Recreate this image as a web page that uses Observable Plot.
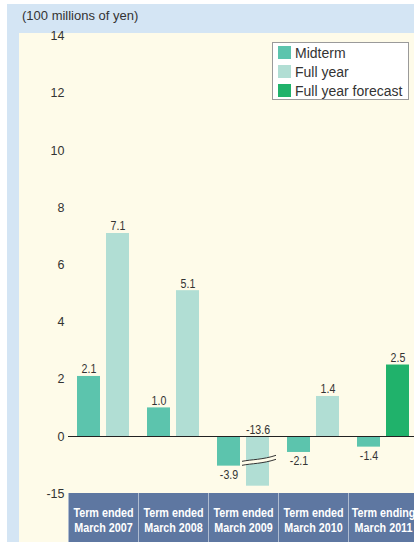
<!DOCTYPE html>
<html>
<head>
<meta charset="utf-8">
<script src="https://cdn.jsdelivr.net/npm/d3@7"></script>
<script src="https://cdn.jsdelivr.net/npm/@observablehq/plot@0.6"></script>
<style>
html,body{margin:0;padding:0;background:#fff;width:414px;height:542px;overflow:hidden;}
#wrap{position:relative;width:414px;height:542px;overflow:hidden;}
#blue{position:absolute;left:7px;top:4px;right:0;bottom:0;background:#d4e5f4;}
#cream{position:absolute;left:19px;top:33px;right:0;bottom:0;background:#fefbe9;}
#title{position:absolute;left:22px;top:8px;font:13px "Liberation Sans",Arial,sans-serif;color:#333;}
#chart{position:absolute;left:0;top:0;width:420px;}
#chart svg{max-width:none !important;}
#legend{position:absolute;left:272px;top:42px;width:137px;height:58px;background:#fff;border:1px solid #9a9a9a;box-sizing:border-box;padding:0 0 0 5px;font:14px "Liberation Sans",Arial,sans-serif;color:#333;white-space:nowrap;}
#legend .row{display:flex;align-items:center;height:19px;}
#legend .sw{width:13px;height:13px;margin-right:4px;flex:none;}
</style>
</head>
<body>
<div id="wrap">
  <div id="blue"></div>
  <div id="cream"></div>
  <div id="title">(100 millions of yen)</div>
  <div id="chart"></div>
  <div id="legend"></div>
</div>
<script>
// ---- data ----
const categories = ["Term ended\nMarch 2007", "Term ended\nMarch 2008", "Term ended\nMarch 2009", "Term ended\nMarch 2010", "Term ending\nMarch 2011"];
const midterm  = [2.1, 1.0, -3.9, -2.1, -1.4];
const fullYear = [7.1, 5.1, -13.6, 1.4, null];
const forecast = [null, null, null, null, 2.5];
const seriesNames = ["Midterm", "Full year", "Full year forecast"];
const seriesColors = ["#5cc4ad", "#b1ded4", "#20b26b"];
const yTicks = [14, 12, 10, 8, 6, 4, 2, 0, -15];
const gridTicks = [14, 12, 10, 8, 6, 4, 2];
const breakValue = -3.2;    // where the broken bar is cut
const brokenBelow = -5;     // values below this are drawn with an axis break

// ---- table ----
const rows = [];
categories.forEach((c, i) => {
  if (midterm[i] != null) rows.push({cat: c, series: seriesNames[0], slot: "left", value: midterm[i]});
  if (fullYear[i] != null) rows.push({cat: c, series: seriesNames[1], slot: "right", value: fullYear[i]});
  if (forecast[i] != null) rows.push({cat: c, series: seriesNames[2], slot: "right", value: forecast[i]});
});
const left = rows.filter(d => d.slot === "left");
const right = rows.filter(d => d.slot === "right");
const fmt = v => v.toFixed(1);   // plain hyphen-minus as in the original
const sans = '"Liberation Sans",Arial,sans-serif';

const labelMarks = (data, dx) => [
  Plot.text(data.filter(d => d.value >= 0), {x: "cat", y: "value", text: d => fmt(d.value), dx, dy: -3, lineAnchor: "bottom", fontSize: 12.5, fontFamily: sans, fill: "#333", className: "narrow"}),
  Plot.text(data.filter(d => d.value < 0 && d.value >= brokenBelow), {x: "cat", y: "value", text: d => fmt(d.value), dx, dy: 4, lineAnchor: "top", fontSize: 12.5, fontFamily: sans, fill: "#333", className: "narrow"}),
  Plot.text(data.filter(d => d.value < brokenBelow), {x: "cat", y: 0, text: d => fmt(d.value), dx, dy: -3, lineAnchor: "bottom", fontSize: 12.5, fontFamily: sans, fill: "#333", className: "narrow"})
];

function bandMark(index, scales, values, dim) {
  const g = d3.create("svg:g");
  const x = scales.x, bw = x.bandwidth();
  const y0 = scales.y(-15);
  g.append("rect").attr("x", x(categories[0])).attr("y", y0)
    .attr("width", bw * categories.length).attr("height", dim.height - y0).attr("fill", "#aebbd0");
  categories.forEach(c => {
    g.append("rect").attr("x", x(c) + 1).attr("y", y0)
      .attr("width", bw - 1).attr("height", dim.height - y0).attr("fill", "#5e77a1");
  });
  return g.node();
}

function breakMark(index, scales) {
  const g = d3.create("svg:g");
  const x = scales.x, bw = x.bandwidth();
  rows.filter(d => d.value < brokenBelow).forEach(d => {
    const x0 = x(d.cat) + 38 - 4, x1 = x(d.cat) + bw - 9 + 7;
    const y = scales.y(breakValue);
    const w = x1 - x0;
    const curve = (o) => `M${x0},${y + 3 + o} C${x0 + w * 0.3},${y + 1 + o} ${x0 + w * 0.6},${y + 1.5 + o} ${x1},${y - 3 + o}`;
    g.append("path").attr("d", `M${x0},${y + 1} C${x0 + w * 0.3},${y - 1} ${x0 + w * 0.6},${y - 0.5} ${x1},${y - 5} L${x1},${y - 1} C${x0 + w * 0.6},${y + 3.5} ${x0 + w * 0.3},${y + 3} ${x0},${y + 5} Z`).attr("fill", "#fefbe9");
    g.append("path").attr("d", curve(-2)).attr("fill", "none").attr("stroke", "#333").attr("stroke-width", 1);
    g.append("path").attr("d", curve(2)).attr("fill", "none").attr("stroke", "#333").attr("stroke-width", 1);
  });
  return g.node();
}

const chart = Plot.plot({
  width: 420,
  height: 542,
  marginLeft: 68,
  marginRight: 2,
  marginTop: 0,
  marginBottom: 49,
  style: {background: "transparent", fontFamily: sans, maxWidth: "none"},
  x: {type: "band", domain: categories, range: [68, 418], padding: 0, label: null},
  y: {type: "linear", domain: [-15, -13.6, -4, 0, 14], range: [493, 485.7, 466.4, 436, 35.7], label: null},
  color: {domain: seriesNames, range: seriesColors},
  marks: [
    Plot.gridY(gridTicks, {stroke: "#d6d6d2", strokeOpacity: 1, x1: 68, x2: 420}),
    bandMark,
    Plot.axisX({anchor: "bottom", tickSize: 0, tickPadding: 13, fill: "#fff", fontSize: 12.5, fontWeight: "bold", fontFamily: sans, lineHeight: 1.2, label: null}),
    Plot.axisY(yTicks, {tickSize: 0, tickPadding: 4, fontSize: 12.5, fill: "#333", label: null, tickFormat: d => String(d)}),
    Plot.barY(left, {x: "cat", y: "value", fill: "series", insetLeft: 9, insetRight: 38}),
    Plot.barY(right, {x: "cat", y: "value", fill: "series", insetLeft: 38, insetRight: 9}),
    breakMark,
    Plot.ruleY([0], {stroke: "#222", strokeWidth: 1.2}),
    ...labelMarks(left, -14.5),
    ...labelMarks(right, 14.5)
  ]
});
document.getElementById("chart").appendChild(chart);

// condense the narrow-font texts (the original uses a condensed face)
function condense(sel, factor) {
  chart.querySelectorAll(sel).forEach(t => {
    const parts = t.querySelectorAll("tspan");
    const items = parts.length ? parts : [t];
    items.forEach(el => {
      const len = el.getComputedTextLength();
      if (len > 0) {
        el.setAttribute("textLength", (len * factor).toFixed(2));
        el.setAttribute("lengthAdjust", "spacingAndGlyphs");
      }
    });
  });
}
condense("g[aria-label='x-axis tick label'] text", 0.86);
condense("g.narrow text", 0.85);

const legend = d3.select("#legend");
seriesNames.forEach((s, i) => {
  const r = legend.append("div").attr("class", "row");
  r.append("div").attr("class", "sw").style("background", seriesColors[i]);
  r.append("span").text(s);
});
</script>
</body>
</html>
